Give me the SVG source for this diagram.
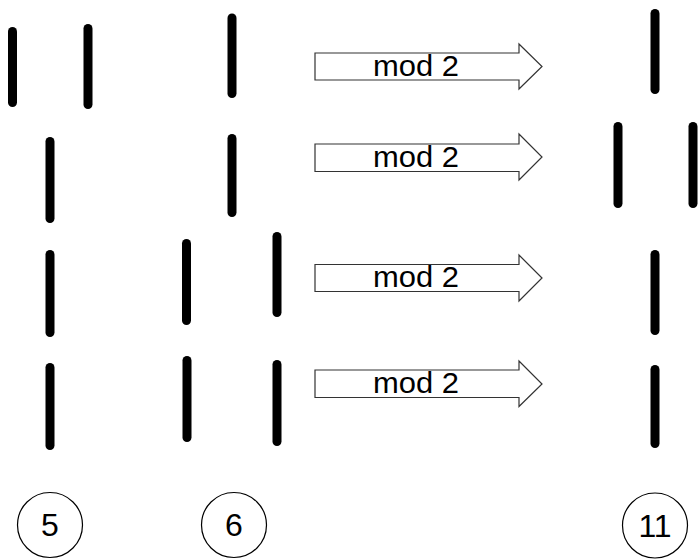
<svg xmlns="http://www.w3.org/2000/svg" width="700" height="560" viewBox="0 0 700 560">
<style>
.bar{stroke:#000;stroke-width:9;stroke-linecap:round;fill:none}
.arrow{fill:#fff;stroke:#333;stroke-width:1.2}
.lbl{font-family:"Liberation Sans",Arial,sans-serif;font-size:30px;fill:#000}
.num{font-family:"Liberation Sans",Arial,sans-serif;font-size:32px;fill:#000;text-anchor:middle}
.circ{fill:#fff;stroke:#000;stroke-width:1.2}
</style>
<rect width="700" height="560" fill="#fff"/>
<g id="col5">
<line class="bar" x1="12.5" y1="31.5" x2="12.5" y2="102.5"/>
<line class="bar" x1="88" y1="28.5" x2="88" y2="104.5"/>
<line class="bar" x1="50" y1="141.5" x2="50" y2="218.5"/>
<line class="bar" x1="50" y1="254.5" x2="50" y2="332.5"/>
<line class="bar" x1="50" y1="367.5" x2="50" y2="445.5"/>
</g>
<g id="col6">
<line class="bar" x1="232" y1="18" x2="232" y2="93.5"/>
<line class="bar" x1="232" y1="138.5" x2="232" y2="212.5"/>
<line class="bar" x1="186.5" y1="243.5" x2="186.5" y2="320.5"/>
<line class="bar" x1="277" y1="236.5" x2="277" y2="312.5"/>
<line class="bar" x1="187" y1="360.5" x2="187" y2="437.5"/>
<line class="bar" x1="277" y1="364.5" x2="277" y2="441.5"/>
</g>
<g id="col11">
<line class="bar" x1="655" y1="13.5" x2="655" y2="89.5"/>
<line class="bar" x1="618" y1="126.5" x2="618" y2="203.5"/>
<line class="bar" x1="693" y1="126.5" x2="693" y2="203.5"/>
<line class="bar" x1="655" y1="254.5" x2="655" y2="330.5"/>
<line class="bar" x1="655" y1="369.5" x2="655" y2="443.5"/>
</g>
<g id="connectors">
<g id="arrow1">
<polygon class="arrow" points="315,53 519,53 519,44 542,66.5 519,89 519,80 315,80"/>
<text class="lbl" x="373" y="75.5" textLength="86" lengthAdjust="spacingAndGlyphs">mod 2</text>
</g>
<g id="arrow2">
<polygon class="arrow" points="315,144 519,144 519,134 542,157 519,180 519,171.5 315,171.5"/>
<text class="lbl" x="373" y="166.5" textLength="86" lengthAdjust="spacingAndGlyphs">mod 2</text>
</g>
<g id="arrow3">
<polygon class="arrow" points="315,264.5 519,264.5 519,255 542,278 519,301 519,291.5 315,291.5"/>
<text class="lbl" x="373" y="287" textLength="86" lengthAdjust="spacingAndGlyphs">mod 2</text>
</g>
<g id="arrow4">
<polygon class="arrow" points="315,370 519,370 519,361 542,384 519,406.5 519,397.5 315,397.5"/>
<text class="lbl" x="373" y="392.5" textLength="86" lengthAdjust="spacingAndGlyphs">mod 2</text>
</g>
</g>
<g id="label5">
<circle class="circ" cx="50" cy="525" r="32.5"/>
<text class="num" x="50" y="536">5</text>
</g>
<g id="label6">
<circle class="circ" cx="234" cy="525" r="32.5"/>
<text class="num" x="234" y="536">6</text>
</g>
<g id="label11">
<circle class="circ" cx="655" cy="525.5" r="32.5"/>
<text class="num" x="655" y="537">11</text>
</g>
</svg>
